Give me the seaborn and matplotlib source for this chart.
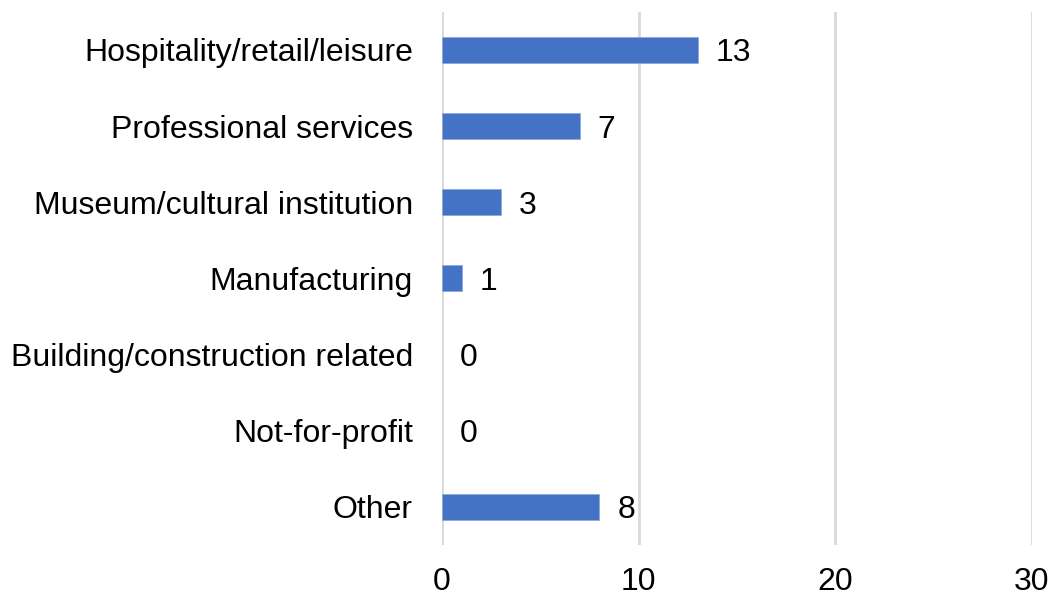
import matplotlib
matplotlib.use("Agg")
import matplotlib.pyplot as plt
import seaborn as sns
import pandas as pd

categories = [
    "Hospitality/retail/leisure",
    "Professional services",
    "Museum/cultural institution",
    "Manufacturing",
    "Building/construction related",
    "Not-for-profit",
    "Other",
]
counts = [13, 7, 3, 1, 0, 0, 8]
x_ticks = [0, 10, 20, 30]

sns.set_theme(style="white")
plt.rcParams["font.family"] = ["Liberation Sans", "DejaVu Sans"]

df = pd.DataFrame({"category": categories, "count": counts})

fig = plt.figure(figsize=(10.55, 5.96), dpi=100)
ax = fig.add_axes([0.419, 0.086, 0.559, 0.894])

sns.barplot(data=df, y="category", x="count", orient="h", color="#4472C4",
            saturation=1, width=0.34, edgecolor="#8FAADC", linewidth=0.6, ax=ax)

# zero-length bars get no outline
for patch, v in zip(ax.patches, counts):
    if v == 0:
        patch.set_edgecolor("none")

ax.set_xlim(0, 30)
ax.set_ylim(len(categories) - 0.5, -0.5)
ax.set_xticks(x_ticks)
ax.set_xlabel("")
ax.set_ylabel("")
ax.xaxis.grid(True, color="#D9D9D9", linewidth=2)
ax.set_axisbelow(True)
for s in ax.spines.values():
    s.set_visible(False)
fs = 23
ax.tick_params(axis="y", length=0, pad=21, labelsize=fs, colors="black")
ax.tick_params(axis="x", length=0, pad=16, labelsize=fs, colors="black")

for container in ax.containers:
    texts = ax.bar_label(container, labels=[str(v) for v in counts], padding=13,
                         fontsize=fs, color="black")
    for t in texts:
        t.set_verticalalignment("center_baseline")

fig.savefig("out.png", dpi=100)
